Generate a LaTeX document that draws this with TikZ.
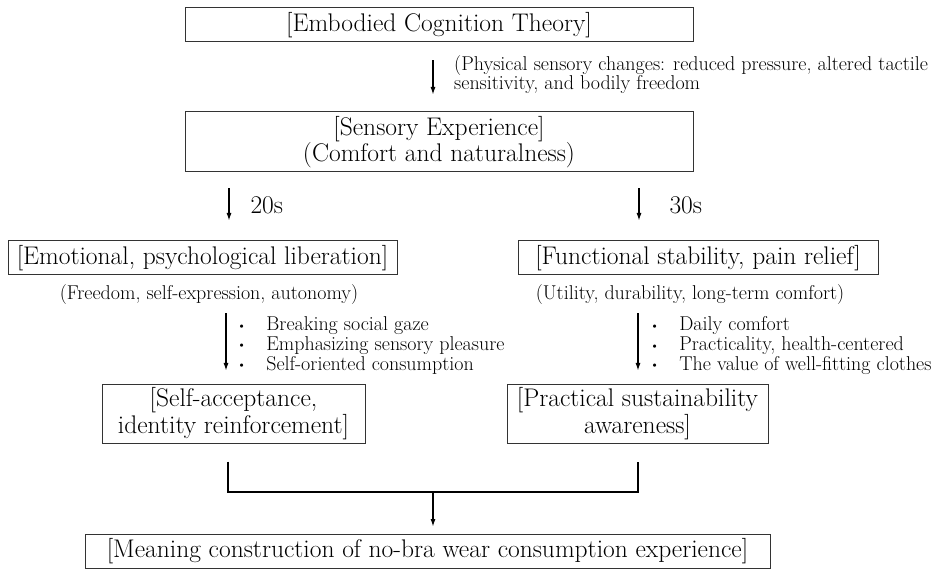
\documentclass[tikz,border=0pt]{standalone}
\usetikzlibrary{positioning,calc,arrows.meta}
\newcommand{\bul}{\raisebox{1.5pt}{\fontsize{12}{12}\selectfont\textbullet}}
\begin{document}
\begin{tikzpicture}[x=1pt, y=-1pt,
  box/.style={draw=black!80, line width=1pt, align=center, inner sep=0pt, font=\fontsize{25.5}{26.5}\selectfont},
  note/.style={inner sep=0pt, align=left, font=\fontsize{20}{19.5}\selectfont},
  arr/.style={line width=1.1pt, -{Latex[length=7.5pt,width=5pt]}}]
  \useasboundingbox (0,0) rectangle (932,569);

  % Boxes
  \node[box, minimum width=508pt, minimum height=34pt] (theory) at (439,25) {[Embodied Cognition Theory]};
  \node[box, minimum width=508pt, minimum height=60pt] (sensory) at (439,142) {[Sensory Experience]\\(Comfort and naturalness)};
  \node[box, minimum width=389pt, minimum height=34pt] (emotional) at (202.5,258) {[Emotional, psychological liberation]};
  \node[box, minimum width=360pt, minimum height=34pt] (functional) at (698,258) {[Functional stability, pain relief]};
  \node[box, minimum width=263pt, minimum height=59pt] (selfacc) at (233.5,413.5) {[Self-acceptance,\\identity reinforcement]};
  \node[box, minimum width=261pt, minimum height=59pt] (practical) at (637.5,413.5) {[Practical sustainability\\awareness]};
  \node[box, minimum width=685pt, minimum height=34pt] (meaning) at (427.5,551) {[Meaning construction of no-bra wear consumption experience]};

  % Top arrow and its note
  \draw[arr, shorten <=18pt, shorten >=17pt] ([xshift=-6pt]theory.south) -- ([xshift=-6pt]sensory.north);
  \node[note, anchor=west] (physical) at (454,74.5) {(Physical sensory changes: reduced pressure, altered tactile\\sensitivity, and bodily freedom};

  % Age groups
  \draw[arr, shorten <=16pt, shorten >=20pt] ([xshift=-210pt]sensory.south) -- ([xshift=26.5pt]emotional.north);
  \draw[arr, shorten <=16pt, shorten >=20pt] ([xshift=200pt]sensory.south) -- ([xshift=-59pt]functional.north);
  \node[box, draw=none, anchor=west] (twenties) at (250,205) {20s};
  \node[box, draw=none, anchor=west] (thirties) at (669,205) {30s};

  % Sub notes
  \node[note] (freedom) at (209,295) {(Freedom, self-expression, autonomy)};
  \node[note] (utility) at (690,295) {(Utility, durability, long-term comfort)};

  % Paths to outcomes
  \draw[arr, shorten <=38pt, shorten >=13pt] ([xshift=23.5pt]emotional.south) -- ([xshift=-7.5pt]selfacc.north);
  \draw[arr, shorten <=38pt, shorten >=13pt] ([xshift=-60pt]functional.south) -- ([xshift=0.5pt]practical.north);
  \node[note, anchor=west] (pointsL) at (237,346.5) {\begin{tabular}{@{}l@{\hspace{20pt}}l@{}}
    \bul & Breaking social gaze\\ \bul & Emphasizing sensory pleasure\\ \bul & Self-oriented consumption\end{tabular}};
  \node[note, anchor=west] (pointsR) at (650,346.5) {\begin{tabular}{@{}l@{\hspace{20pt}}l@{}}
    \bul & Daily comfort\\ \bul & Practicality, health-centered\\ \bul & The value of well-fitting clothes\end{tabular}};

  % Merge into meaning construction
  \coordinate (merge) at (433,492);
  \draw[line width=1.1pt] ([xshift=-5.5pt, yshift=-18pt]selfacc.south) |- (merge) -| ([xshift=0.5pt, yshift=-18pt]practical.south);
  \draw[arr, shorten >=7pt] (merge) -- (merge |- meaning.north);
\end{tikzpicture}
\end{document}
